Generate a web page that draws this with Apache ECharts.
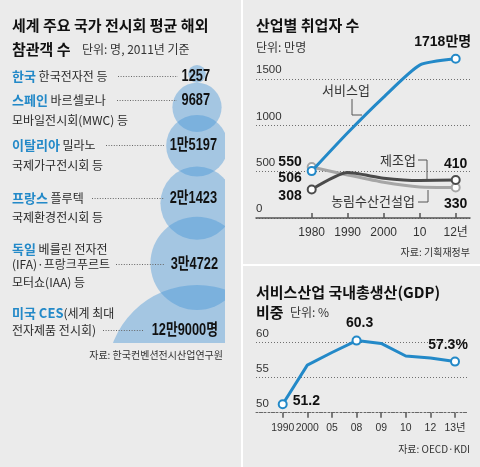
<!DOCTYPE html>
<html><head><meta charset="utf-8">
<script src="https://cdn.jsdelivr.net/npm/echarts@6/dist/echarts.min.js"></script>
<style>html,body{margin:0;padding:0;background:#ebebeb}#c{width:480px;height:467px}</style>
</head><body><div id="c"></div>
<script>
// ---- Data: 전시회 평균 해외 참관객 수 (명, 2011) ----
const fairCountries = ['한국', '스페인', '이탈리아', '프랑스', '독일', '미국 CES'];
const fairDescriptions = [
  [' 한국전자전 등'],
  [' 바르셀로나', '모바일전시회(MWC) 등'],
  [' 밀라노', '국제가구전시회 등'],
  [' 플루텍', '국제환경전시회 등'],
  [' 베를린 전자전', '(IFA)·프랑크푸르트', '모터쇼(IAA) 등'],
  ['(세계 최대', '전자제품 전시회)']
];
const fairVisitors = [1257, 9687, 15197, 21423, 34722, 129000];

// ---- Data: 산업별 취업자 수 (만명) ----
const empYears = ['1980', '1990', '2000', '10', '12년'];
const empService = [506, 920, 1305, 1650, 1718];
const empManufacturing = [308, 490, 430, 405, 410];
const empAgriConstruction = [550, 465, 385, 335, 330];

// ---- Data: 서비스산업 GDP 비중 (%) ----
const gdpYears = ['1990', '2000', '05', '08', '09', '10', '12', '13년'];
const gdpShare = [51.2, 56.8, 58.6, 60.3, 59.9, 58.1, 57.8, 57.3];

// ---- Styles / layout ----
const KR = "'Noto Sans CJK KR', sans-serif";
const NUM = "'Liberation Sans', 'Noto Sans CJK KR', sans-serif";
const BLUE = '#2389c8';
const DARK = '#4b4b4b';
const GRAY = '#a6a6a6';
const BUB = 'rgba(66,148,215,0.42)';
const TXT = '#222';

const bubbleX = 197, bubbleTop = 65, bubbleScale = 0.25;
const bubbleOverlap = [0, 17, 10, 23, 25];
const radii = fairVisitors.map(v => bubbleScale * Math.sqrt(v));
const centers = [];
(function () {
  let prevBottom = 0;
  radii.forEach((r, i) => {
    const top = i === 0 ? bubbleTop : prevBottom - bubbleOverlap[i - 1];
    centers.push(top + r);
    prevBottom = top + 2 * r;
  });
})();

const rowLayout = [
  {ys: [76], valY: 76, lead: [118, 178], valRight: 210},
  {ys: [100, 120], valY: 100, lead: [117, 177], valRight: 210},
  {ys: [145, 165], valY: 145, lead: [106, 164], valRight: 217},
  {ys: [198, 217], valY: 198, lead: [92, 164], valRight: 217},
  {ys: [249, 264, 282], valY: 264, lead: [116, 164], valRight: 218},
  {ys: [313, 330], valY: 330, lead: [103, 144], valRight: 218}
];

function fmtVisitors(v, i) {
  let s;
  if (v >= 10000) {
    const man = Math.floor(v / 10000), rest = v % 10000;
    s = man + '만' + (rest ? rest : '');
  } else s = String(v);
  if (i === fairVisitors.length - 1) s += '명';
  return s;
}

function txt(text, x, y, opt) {
  opt = opt || {};
  const el = {
    type: 'text', z: 10, silent: true,
    x: x, y: y,
    style: Object.assign({
      text: text, x: 0, y: 0,
      fill: opt.fill || TXT,
      font: opt.font || ('12px ' + KR),
      textAlign: opt.align || 'left', align: opt.align || 'left',
      textVerticalAlign: 'middle', verticalAlign: 'middle'
    }, opt.rich ? {rich: opt.rich} : {})
  };
  if (opt.scaleX) el.scaleX = opt.scaleX;
  return el;
}
function seg(x1, y1, x2, y2, stroke, w, dash) {
  return {
    type: 'line', z: 9, silent: true,
    shape: {x1: x1, y1: y1, x2: x2, y2: y2},
    style: {stroke: stroke, lineWidth: w, lineDash: dash || null}
  };
}
function poly(points, stroke) {
  return {type: 'polyline', z: 9, silent: true, shape: {points: points}, style: {stroke: stroke, lineWidth: 1, fill: null}};
}

const graphics = [];
// separators
graphics.push(seg(242, 0, 242, 467, '#ffffff', 2));
graphics.push(seg(243, 265, 480, 265, '#ffffff', 2));
// left titles
graphics.push(txt('세계 주요 국가 전시회 평균 해외', 12, 25, {font: 'bold 15px ' + KR, fill: '#111'}));
graphics.push(txt('참관객 수', 12, 49, {font: 'bold 15px ' + KR, fill: '#111'}));
graphics.push(txt('단위: 명, 2011년 기준', 82, 49, {font: '12px ' + KR, fill: '#333'}));
// left rows
fairCountries.forEach((name, i) => {
  const L = rowLayout[i];
  fairDescriptions[i].forEach((line, j) => {
    const t = j === 0 ? '{b|' + name + '}' + line : line;
    graphics.push(txt(t, 12, L.ys[j], {
      font: '12px ' + KR, fill: '#2a2a2a',
      rich: {b: {fill: BLUE, fontWeight: 'bold', fontSize: 13, fontFamily: KR}}
    }));
  });
  graphics.push(seg(L.lead[0], L.valY + 0.5, L.lead[1], L.valY + 0.5, '#666', 1, [1, 1.6]));
  graphics.push(txt(fmtVisitors(fairVisitors[i], i), L.valRight, L.valY + 1, {
    font: 'bold 16px ' + NUM, fill: '#111', align: 'right', scaleX: 0.8
  }));
});
graphics.push(txt('자료: 한국컨벤션전시산업연구원', 223, 355, {font: '10px ' + KR, fill: '#333', align: 'right'}));

// right top
graphics.push(txt('산업별 취업자 수', 256, 25, {font: 'bold 15px ' + KR, fill: '#111'}));
graphics.push(txt('단위: 만명', 256, 47, {font: '12px ' + KR, fill: '#333'}));
graphics.push(txt('서비스업', 346, 90, {font: '13px ' + KR, fill: '#333', align: 'center'}));
graphics.push(poly([[352, 99], [352, 115], [362, 115]], '#555'));
graphics.push(txt('제조업', 398, 160, {font: '13px ' + KR, fill: '#333', align: 'center'}));
graphics.push(poly([[418, 160], [427, 160], [427, 179]], '#555'));
graphics.push(txt('농림수산건설업', 373, 201, {font: '13px ' + KR, fill: '#333', align: 'center'}));
graphics.push(poly([[418, 202], [428, 202], [428, 190]], '#555'));
graphics.push(txt('자료: 기획재정부', 470, 252, {font: '10px ' + KR, fill: '#333', align: 'right'}));

// right bottom
graphics.push(txt('서비스산업 국내총생산(GDP)', 256, 292, {font: 'bold 15px ' + KR, fill: '#111'}));
graphics.push(txt('비중', 256, 312, {font: 'bold 15px ' + KR, fill: '#111'}));
graphics.push(txt('단위: %', 290, 312, {font: '12px ' + KR, fill: '#333'}));
graphics.push(txt('자료: OECD·KDI', 470, 449, {font: '10px ' + KR, fill: '#333', align: 'right'}));

function lineItems(values, markIdx, labelCfg) {
  return values.map((v, i) => {
    const it = {value: v, symbol: markIdx.indexOf(i) >= 0 ? 'circle' : 'none'};
    if (labelCfg[i]) it.label = Object.assign({show: true}, labelCfg[i]);
    return it;
  });
}
const numLabel = {show: false, fontFamily: NUM, fontWeight: 'bold', fontSize: 14, color: '#111'};
function lineSeries(name, values, color, markIdx, labelCfg, axisIdx, fmt, z, smooth) {
  return {
    type: 'line', name: name, xAxisIndex: axisIdx, yAxisIndex: axisIdx,
    data: lineItems(values, markIdx, labelCfg),
    smooth: smooth, clip: false, z: z, silent: true,
    symbolSize: 8,
    lineStyle: {color: color, width: 3},
    itemStyle: {color: '#fff', borderColor: color, borderWidth: 2},
    label: Object.assign({}, numLabel, {formatter: p => fmt(p.value, p.dataIndex)}),
    emphasis: {disabled: true}
  };
}

const plain = v => String(v);
const lastE = empYears.length - 1;
const lastG = gdpYears.length - 1;

const hiddenAxis = (gi, min, max, inverse) => ({type: 'value', gridIndex: gi, min: min, max: max, inverse: !!inverse, show: false});
const yLabel = {align: 'left', verticalAlign: 'bottom', margin: 0, padding: [0, 0, 3, 0], fontFamily: NUM, fontSize: 11.5, color: '#333', formatter: v => String(v)};

const option = {
  backgroundColor: '#ebebeb',
  animation: false,
  grid: [
    {left: 0, top: 0, width: 225, height: 343},
    {left: 256, top: 79, width: 214, height: 139},
    {left: 311.7, top: 32.67, width: 144, height: 185.33},
    {left: 256, top: 342.7, width: 212, height: 70},
    {left: 282.7, top: 307.7, width: 172.3, height: 105}
  ],
  xAxis: [
    hiddenAxis(0, 0, 225),
    {type: 'value', gridIndex: 1, min: 0, max: 1, axisLine: {show: true, lineStyle: {color: '#555', width: 1.5}},
      axisTick: {show: false}, axisLabel: {show: false}, splitLine: {show: false}},
    {type: 'category', gridIndex: 2, data: empYears, boundaryGap: false,
      axisLine: {show: false},
      axisTick: {show: true, inside: true, length: 5, interval: 0, lineStyle: {color: '#555', width: 1.5}},
      axisLabel: {interval: 0, margin: 9, fontFamily: NUM, fontSize: 12, color: '#333'},
      splitLine: {show: false}},
    {type: 'value', gridIndex: 3, min: 0, max: 1, axisLine: {show: true, lineStyle: {color: '#666', width: 1, type: [2, 2]}},
      axisTick: {show: false}, axisLabel: {show: false}, splitLine: {show: false}},
    {type: 'category', gridIndex: 4, data: gdpYears, boundaryGap: false,
      axisLine: {show: false},
      axisTick: {show: true, inside: false, length: 5, interval: 0, lineStyle: {color: '#555', width: 1.5}},
      axisLabel: {interval: 0, margin: 10, fontFamily: NUM, fontSize: 10.4, color: '#333'},
      splitLine: {show: false}}
  ],
  yAxis: [
    hiddenAxis(0, 0, 343, true),
    {type: 'value', gridIndex: 1, min: 0, max: 1500, interval: 500,
      axisLine: {show: false}, axisTick: {show: false}, axisLabel: yLabel,
      splitLine: {show: true, lineStyle: {color: '#6f6f6f', width: 1, type: [1, 2]}}},
    hiddenAxis(2, 0, 2000),
    {type: 'value', gridIndex: 3, min: 50, max: 60, interval: 5,
      axisLine: {show: false}, axisTick: {show: false}, axisLabel: yLabel,
      splitLine: {show: true, lineStyle: {color: '#6f6f6f', width: 1, type: [1, 2]}}},
    hiddenAxis(4, 50, 65)
  ],
  series: [
    {
      type: 'custom', xAxisIndex: 0, yAxisIndex: 0, clip: true, silent: true,
      data: fairVisitors.map((v, i) => [bubbleX, centers[i], v]),
      encode: {x: 0, y: 1},
      renderItem: function (params, api) {
        const p = api.coord([api.value(0), api.value(1)]);
        const r = bubbleScale * Math.sqrt(api.value(2));
        return {type: 'circle', shape: {cx: p[0], cy: p[1], r: r}, style: {fill: BUB}};
      }
    },
    lineSeries('농림수산건설업', empAgriConstruction, GRAY, [0, lastE], {
      0: {position: 'left', distance: 5, offset: [0, -5]},
      [lastE]: {position: 'bottom', distance: 5}
    }, 2, plain, 3, 0.2),
    lineSeries('제조업', empManufacturing, DARK, [0, lastE], {
      0: {position: 'left', distance: 5, offset: [0, 7]},
      [lastE]: {position: 'top', distance: 4}
    }, 2, plain, 4, 0.2),
    lineSeries('서비스업', empService, BLUE, [0, lastE], {
      0: {position: 'left', distance: 5, offset: [0, 7]},
      [lastE]: {position: 'top', distance: 5, offset: [-13, 0]}
    }, 2, (v, i) => i === lastE ? v + '만명' : String(v), 5, 0.2),
    lineSeries('서비스산업 GDP 비중', gdpShare, BLUE, [0, 3, lastG], {
      0: {position: 'right', distance: 5, offset: [0, -3]},
      3: {position: 'top', distance: 5, offset: [3, 0]},
      [lastG]: {position: 'top', distance: 4, offset: [-7, 0]}
    }, 4, (v, i) => i === lastG ? v + '%' : String(v), 5, false)
  ],
  graphic: graphics
};
const chart = echarts.init(document.getElementById('c'), null, {renderer: 'canvas'});
chart.setOption(option);
</script>
</body></html>
